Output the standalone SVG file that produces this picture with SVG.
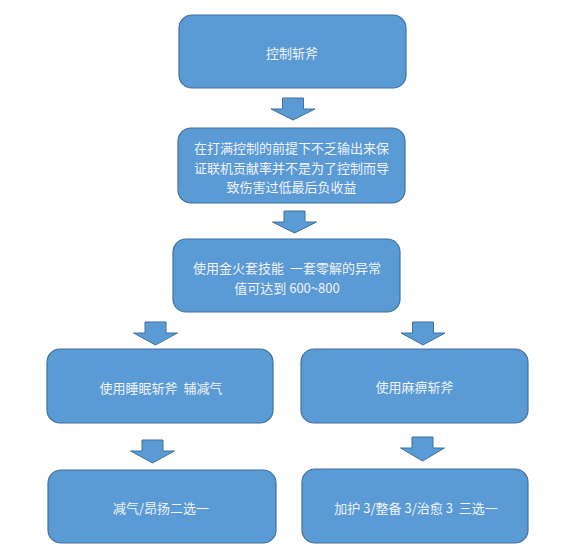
<svg xmlns="http://www.w3.org/2000/svg" width="585" height="557" viewBox="0 0 585 557">
<style>
.box{fill:#5B9BD5;stroke:#41719C;stroke-width:1.2}
.arr{fill:#5B9BD5;stroke:#41719C;stroke-width:1}
text{font-family:"Noto Sans CJK SC","Liberation Sans",sans-serif;font-size:13px;fill:#EEF2F7;text-anchor:middle;dominant-baseline:central;white-space:pre}
</style>
<rect width="585" height="557" fill="#ffffff"/>
<g id="connectors">
<path class="arr" d="M282.5,98 H303.5 V109 H315 L293,120 L271,109 H282.5 Z"/>
<path class="arr" d="M284,211 H305 V222 H316.5 L294.5,233 L272.5,222 H284 Z"/>
<path class="arr" d="M145,322 H166 V333 H177.5 L155.5,345 L133.5,333 H145 Z"/>
<path class="arr" d="M412.5,322 H433.5 V333 H445 L423,345 L401,333 H412.5 Z"/>
<path class="arr" d="M142,440 H163 V451 H174.5 L152.5,463 L130.5,451 H142 Z"/>
<path class="arr" d="M412,437 H433 V448 H444.5 L422.5,461 L400.5,448 H412 Z"/>
</g>
<g id="n1"><rect class="box" x="179" y="15" width="227" height="73" rx="13"/><text x="292" y="52">控制斩斧</text></g>
<g id="n2"><rect class="box" x="178" y="128" width="227" height="75" rx="13"/><text x="291.5" y="147">在打满控制的前提下不乏输出来保</text><text x="291.5" y="167">证联机贡献率并不是为了控制而导</text><text x="291.5" y="186">致伤害过低最后负收益</text></g>
<g id="n3"><rect class="box" x="173" y="239" width="227" height="73" rx="13"/><text x="287" y="267">使用金火套技能  一套零解的异常</text><text x="287" y="287">值可达到 600~800</text></g>
<g id="n4"><rect class="box" x="47" y="349" width="226" height="74" rx="13"/><text x="161" y="387">使用睡眠斩斧  辅减气</text></g>
<g id="n5"><rect class="box" x="301" y="349" width="227" height="74" rx="13"/><text x="414.5" y="386">使用麻痹斩斧</text></g>
<g id="n6"><rect class="box" x="48" y="470" width="228" height="73" rx="13"/><text x="161" y="507">减气/昂扬二选一</text></g>
<g id="n7"><rect class="box" x="302" y="469" width="226" height="74" rx="13"/><text x="416" y="507">加护 3/整备 3/治愈 3  三选一</text></g>
</svg>
